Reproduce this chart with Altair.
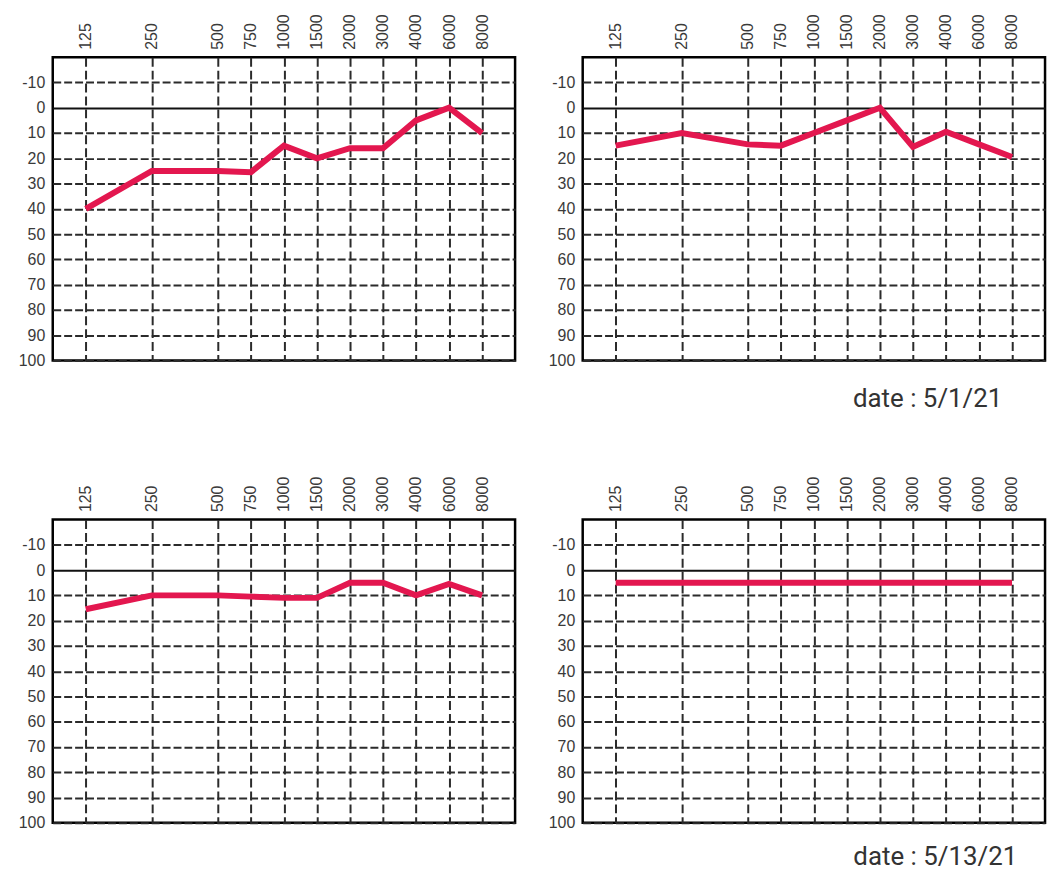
import altair as alt
import pandas as pd

freqs = [125, 250, 500, 750, 1000, 1500, 2000, 3000, 4000, 6000, 8000]
panel1 = [40, 25, 25, 25.5, 15, 20, 16, 16, 5, 0, 10]
panel2 = [15, 10, 14.5, 15, 10, 5, 0, 15.5, 9.5, 14.5, 19.5]
panel3 = [15.5, 10, 10, 10.5, 11, 11, 5, 5, 10, 5.5, 10]
panel4 = [5, 5, 5, 5, 5, 5, 5, 5, 5, 5, 5]
y_ticks = [-10, 0, 10, 20, 30, 40, 50, 60, 70, 80, 90, 100]
x_positions = [0, 2, 4, 5, 6, 7, 8, 9, 10, 11, 12]
dates = ["", "date : 5/1/21", "", "date : 5/13/21"]
date_dx = [0, -43, 0, -28]
date_offset = [0, 18, 0, 13]

LINE_COLOR = "#E3174F"
LABEL_FONT = "Liberation Sans"


def panel(vals, date, dx, off):
    df = pd.DataFrame({"freq": freqs, "level": vals})
    base = alt.Chart(df).transform_calculate(
        pos="round(2*log(datum.freq/125)/LN2)"
    )
    line = base.mark_line(color=LINE_COLOR, strokeWidth=6, strokeCap="butt").encode(
        x=alt.X(
            "pos:Q",
            scale=alt.Scale(domain=[-1, 13], nice=False, zero=False),
            axis=alt.Axis(
                orient="top",
                values=x_positions,
                labelExpr="datum.value % 2 == 0 ? '' + (125*pow(2, datum.value/2)) : '' + (187.5*pow(2, (datum.value-1)/2))",
                labelAngle=270,
                labelAlign="left",
                labelBaseline="middle",
                labelPadding=8,
                labelOverlap=False,
                labelFlush=False,
                ticks=False,
                domain=False,
                grid=True,
                gridDash=[9, 4],
                gridColor="#2b2b2b",
                gridWidth=2,
                gridOpacity=1,
                title=None,
            ),
        ),
        y=alt.Y(
            "level:Q",
            scale=alt.Scale(domain=[-20, 100], reverse=True, nice=False, zero=False),
            axis=alt.Axis(
                values=y_ticks,
                labelExpr="'' + datum.value",
                labelPadding=8,
                labelOverlap=False,
                ticks=False,
                domain=False,
                grid=True,
                gridDash={"condition": {"test": "datum.value === 0", "value": []}, "value": [8, 3]},
                gridColor={"condition": {"test": "datum.value === 0", "value": "#111111"}, "value": "#2b2b2b"},
                gridWidth=2,
                gridOpacity=1,
                title=None,
            ),
        ),
    )
    props = dict(width=465, height=305)
    if date:
        props["title"] = alt.TitleParams(
            text=date,
            orient="bottom",
            anchor="end",
            font="Roboto",
            fontSize=26,
            fontWeight="normal",
            color="#333333",
            offset=off,
            dx=dx,
        )
    return line.properties(**props)


panels = [
    panel(v, d, dx, off)
    for v, d, dx, off in zip([panel1, panel2, panel3, panel4], dates, date_dx, date_offset)
]

chart = (
    alt.vconcat(
        alt.hconcat(panels[0], panels[1], spacing=30),
        alt.hconcat(panels[2], panels[3], spacing=30),
        spacing=61,
    )
    .properties(padding={"left": 9, "top": 2, "right": 5, "bottom": 0})
    .configure_view(stroke="black", strokeWidth=2.5)
    .configure_axis(
        labelFont=LABEL_FONT,
        labelFontSize=16,
        labelColor="#3a3a3a",
    )
)

chart.save("out.html", embed_options={"renderer": "svg", "actions": False})
